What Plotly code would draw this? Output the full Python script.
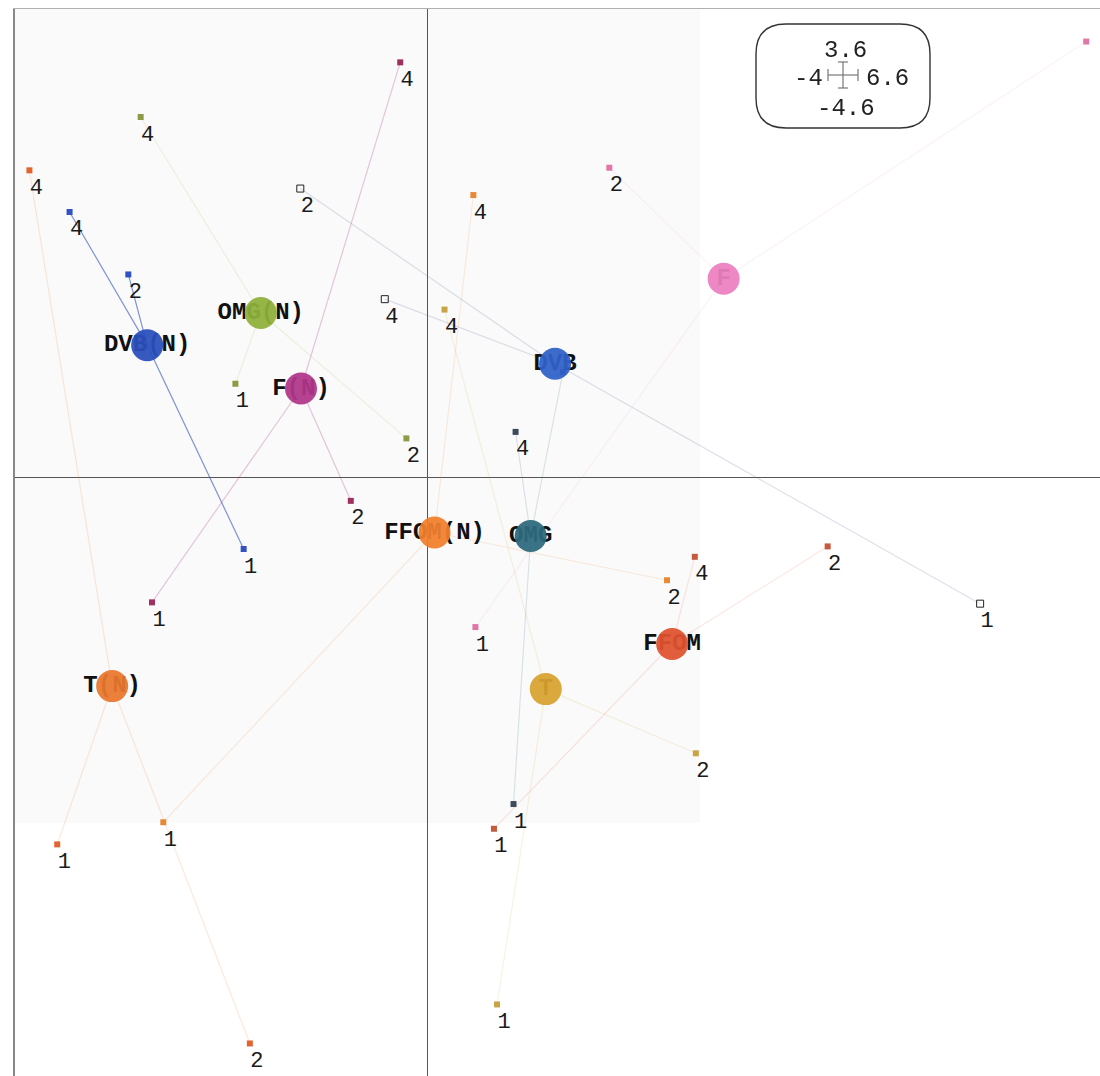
import numpy as np
import plotly.graph_objects as go

# ---- data: group scores on axes 1 and 2 ----
XLIM = [-4, 6.6]
YLIM = [-4.6, 3.6]

groups = ["T(N)", "FFOM(N)", "FFOM", "T", "OMG", "OMG(N)", "F(N)", "F", "DVB", "DVB(N)"]

T_N_x = [-3.86, -3.59, -1.72]
T_N_y = [2.36, -2.82, -4.35]
T_N_lab = ["4", "1", "2"]

FFOM_N_x = [0.45, -2.56, 2.33]
FFOM_N_y = [2.17, -2.65, -0.79]
FFOM_N_lab = ["4", "1", "2"]

FFOM_x = [2.60, 3.89, 0.65]
FFOM_y = [-0.61, -0.53, -2.70]
FFOM_lab = ["4", "2", "1"]

T_x = [0.17, 2.61, 0.68]
T_y = [1.29, -2.12, -4.05]
T_lab = ["4", "2", "1"]

OMG_x = [0.86, 1.32, 0.84]
OMG_y = [0.35, 0.81, -2.51]
OMG_lab = ["4", "", "1"]

OMG_N_x = [-2.78, -0.20, -1.86]
OMG_N_y = [2.77, 0.30, 0.72]
OMG_N_lab = ["4", "2", "1"]

F_N_x = [-0.26, -0.74, -2.67]
F_N_y = [3.19, -0.18, -0.96]
F_N_lab = ["4", "2", "1"]

F_x = [6.40, 1.77, 0.47]
F_y = [3.35, 2.38, -1.15]
F_lab = ["", "2", "1"]

DVB_x = [-0.41, -1.23, 5.37]
DVB_y = [1.37, 2.22, -0.97]
DVB_lab = ["4", "2", "1"]

DVB_N_x = [-3.47, -2.90, -1.78]
DVB_N_y = [2.04, 1.56, -0.55]
DVB_N_lab = ["4", "2", "1"]

points = {
    "T(N)": (T_N_x, T_N_y, T_N_lab),
    "FFOM(N)": (FFOM_N_x, FFOM_N_y, FFOM_N_lab),
    "FFOM": (FFOM_x, FFOM_y, FFOM_lab),
    "T": (T_x, T_y, T_lab),
    "OMG": (OMG_x, OMG_y, OMG_lab),
    "OMG(N)": (OMG_N_x, OMG_N_y, OMG_N_lab),
    "F(N)": (F_N_x, F_N_y, F_N_lab),
    "F": (F_x, F_y, F_lab),
    "DVB": (DVB_x, DVB_y, DVB_lab),
    "DVB(N)": (DVB_N_x, DVB_N_y, DVB_N_lab),
}

# ---- styling ----
centroid_col = {
    "T(N)": "#ea782e", "FFOM(N)": "#f27f2d", "FFOM": "#e0532e", "T": "#d8a32f",
    "OMG": "#2d6a7d", "OMG(N)": "#8fb03b", "F(N)": "#b0378a", "F": "#ec80c0",
    "DVB": "#2f62c9", "DVB(N)": "#2a4fbd",
}
point_col = {
    "T(N)": "#e0652f", "FFOM(N)": "#e88a35", "FFOM": "#c65a3c", "T": "#c9a445",
    "OMG": "#3b4b5c", "OMG(N)": "#8c9c45", "F(N)": "#a0305f", "F": "#e077a6",
    "DVB": "#333333", "DVB(N)": "#3052c2",
}
line_col = {
    "T(N)": "rgba(234,120,46,0.16)", "FFOM(N)": "rgba(242,127,45,0.14)",
    "FFOM": "rgba(224,83,46,0.14)", "T": "rgba(216,163,47,0.14)",
    "OMG": "rgba(45,106,125,0.16)", "OMG(N)": "rgba(143,176,59,0.14)",
    "F(N)": "rgba(176,55,138,0.28)", "F": "rgba(236,128,192,0.10)",
    "DVB": "rgba(110,120,160,0.22)", "DVB(N)": "rgba(42,79,189,0.60)",
}

W, H = 1100, 1076
ML, MT = 15, 9
X_RANGE = [XLIM[0], XLIM[0] + (W - ML) / 103.0]
Y_RANGE = [YLIM[0], YLIM[1]]
px_per_x = (W - ML) / (X_RANGE[1] - X_RANGE[0])
px_per_y = (H - MT) / (Y_RANGE[1] - Y_RANGE[0])

# label offset from its point, in pixels
LAB_DX, LAB_DY = 7, 18

fig = go.Figure()

centroids = {}
for g in groups:
    xs, ys, _ = points[g]
    centroids[g] = (float(np.mean(xs)), float(np.mean(ys)))

# star segments: centroid -> each member
for g in groups:
    xs, ys, _ = points[g]
    cx, cy = centroids[g]
    lx, ly = [], []
    for x, y in zip(xs, ys):
        lx += [cx, x, None]
        ly += [cy, y, None]
    fig.add_trace(go.Scatter(x=lx, y=ly, mode="lines", hoverinfo="skip",
                             line=dict(color=line_col[g], width=1.2),
                             showlegend=False))

# member points
for g in groups:
    xs, ys, _ = points[g]
    if g == "DVB":
        marker = dict(symbol="square-open", size=7, color="#222222",
                      line=dict(width=1))
    else:
        marker = dict(symbol="square", size=6, color=point_col[g])
    fig.add_trace(go.Scatter(x=xs, y=ys, mode="markers", marker=marker,
                             name=g, showlegend=False))

# member labels
for g in groups:
    xs, ys, labs = points[g]
    fig.add_trace(go.Scatter(
        x=[x + LAB_DX / px_per_x for x in xs],
        y=[y - LAB_DY / px_per_y for y in ys],
        mode="text", text=labs, textposition="middle center",
        textfont=dict(family="Liberation Mono, Courier New, monospace",
                      size=22, color="#1a1a1a"),
        hoverinfo="skip", showlegend=False))

# group names, then the centroid discs over them
fig.add_trace(go.Scatter(
    x=[centroids[g][0] for g in groups], y=[centroids[g][1] for g in groups],
    mode="text", text=groups, textposition="middle center",
    textfont=dict(family="Liberation Mono, Courier New, monospace", size=24,
                  color="#111111", weight="bold"),
    hoverinfo="skip", showlegend=False))
fig.add_trace(go.Scatter(
    x=[centroids[g][0] for g in groups], y=[centroids[g][1] for g in groups],
    mode="markers", opacity=0.94,
    marker=dict(size=32, color=[centroid_col[g] for g in groups],
                line=dict(width=0)),
    text=groups, hoverinfo="text", showlegend=False))


def to_paper(px, py):
    return (px - ML) / (W - ML), (H - py) / (H - MT)


shapes = []
# lighter panels behind the plotting region
for (x0, y0, x1, y1) in [(700, 0, W, 823), (0, 823, W, H)]:
    a0, b0 = to_paper(x0, y0)
    a1, b1 = to_paper(x1, y1)
    shapes.append(dict(type="rect", xref="paper", yref="paper",
                       x0=a0, x1=a1, y0=b1, y1=b0, layer="below",
                       fillcolor="#ffffff", line=dict(width=0)))

# range box with rounded corners
bx0, by0, bx1, by1, r = 756, 24, 930, 128, 30
p = [to_paper(*q) for q in [
    (bx0 + r, by0), (bx1 - r, by0), (bx1, by0), (bx1, by0 + r),
    (bx1, by1 - r), (bx1, by1), (bx1 - r, by1), (bx0 + r, by1),
    (bx0, by1), (bx0, by1 - r), (bx0, by0 + r), (bx0, by0)]]
path = ("M {0[0]},{0[1]} L {1[0]},{1[1]} Q {2[0]},{2[1]} {3[0]},{3[1]} "
        "L {4[0]},{4[1]} Q {5[0]},{5[1]} {6[0]},{6[1]} L {7[0]},{7[1]} "
        "Q {8[0]},{8[1]} {9[0]},{9[1]} L {10[0]},{10[1]} "
        "Q {11[0]},{11[1]} {0[0]},{0[1]} Z").format(*p)
shapes.append(dict(type="path", xref="paper", yref="paper", path=path,
                   fillcolor="#ffffff", line=dict(color="#333333", width=1.4)))

# small scale cross inside the box
cxp, cyp = 843, 75
for (x0, y0, x1, y1) in [(cxp - 15, cyp, cxp + 15, cyp),
                         (cxp - 15, cyp - 6, cxp - 15, cyp + 6),
                         (cxp + 15, cyp - 6, cxp + 15, cyp + 6),
                         (cxp, cyp - 13, cxp, cyp + 13),
                         (cxp - 5, cyp - 13, cxp + 5, cyp - 13),
                         (cxp - 5, cyp + 13, cxp + 5, cyp + 13)]:
    a0, b0 = to_paper(x0, y0)
    a1, b1 = to_paper(x1, y1)
    shapes.append(dict(type="line", xref="paper", yref="paper",
                       x0=a0, y0=b0, x1=a1, y1=b1,
                       line=dict(color="#777777", width=1.2)))


def fmt(v):
    return ("%g" % v)


box_font = dict(family="Liberation Mono, Courier New, monospace", size=24,
                color="#222222")
annotations = []
for text, (px, py), anchor in [(fmt(YLIM[1]), (845, 51), "center"),
                               (fmt(XLIM[0]), (825, 79), "right"),
                               (fmt(XLIM[1]), (864, 79), "left"),
                               (fmt(YLIM[0]), (846, 108), "center")]:
    a, b = to_paper(px, py)
    annotations.append(dict(x=a, y=b, xref="paper", yref="paper", text=text,
                            showarrow=False, xanchor=anchor, yanchor="middle",
                            font=box_font))

fig.update_layout(
    width=W, height=H,
    margin=dict(l=ML, r=0, t=MT, b=0),
    paper_bgcolor="#ffffff", plot_bgcolor="#fafafa",
    xaxis=dict(range=X_RANGE, showgrid=False, zeroline=True,
               zerolinecolor="#555555", zerolinewidth=1,
               showticklabels=False, ticks="", side="top",
               showline=True, linecolor="#b0b0b0", linewidth=1),
    yaxis=dict(range=Y_RANGE, showgrid=False, zeroline=True,
               zerolinecolor="#555555", zerolinewidth=1,
               showticklabels=False, ticks="",
               showline=True, linecolor="#888888", linewidth=2),
    shapes=shapes, annotations=annotations,
    hovermode="closest",
)

fig.write_html("out.html")
